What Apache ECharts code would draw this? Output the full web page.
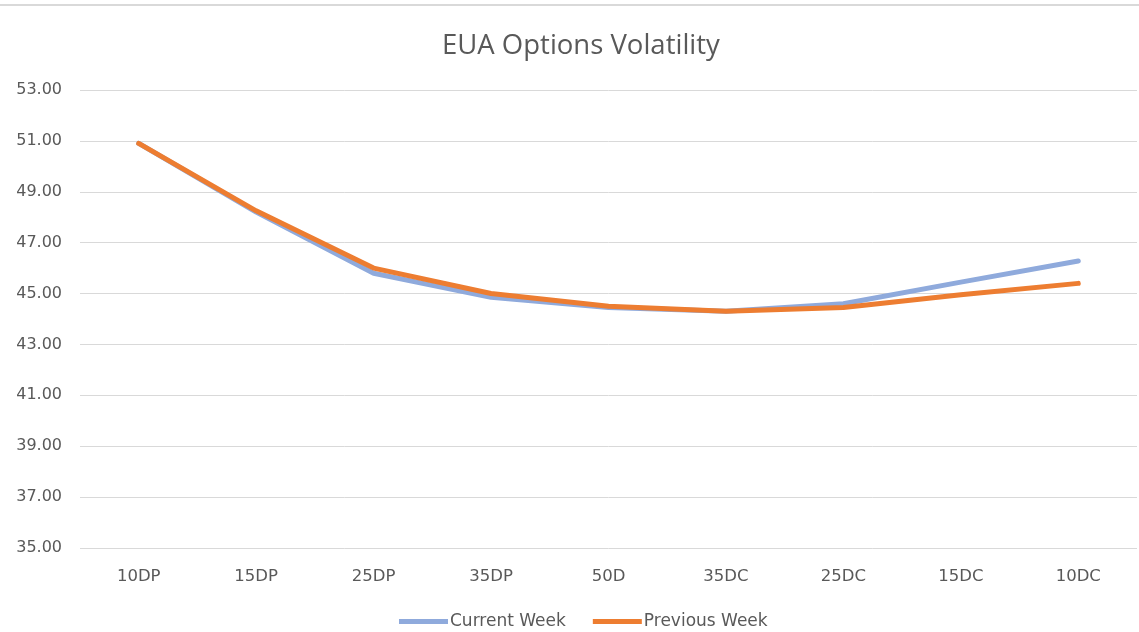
<!DOCTYPE html>
<html><head><meta charset="utf-8">
<script src="https://cdn.jsdelivr.net/npm/echarts@6/dist/echarts.min.js"></script>
<style>html,body{margin:0;padding:0;background:#fff}#c{width:1139px;height:632px}</style>
</head><body><div id="c"></div>
<script>
var categories = ['10DP','15DP','25DP','35DP','50D','35DC','25DC','15DC','10DC'];
var currentWeek = [50.9, 48.2, 45.8, 44.85, 44.45, 44.3, 44.6, 45.45, 46.28];
var previousWeek = [50.9, 48.25, 46.0, 45.0, 44.5, 44.3, 44.45, 44.95, 45.4];
var yMin = 35, yMax = 53, yStep = 2;

var chart = echarts.init(document.getElementById('c'));
chart.setOption({
  animation: false,
  backgroundColor: '#fff',
  graphic: [{type:'rect', shape:{x:0,y:4,width:1139,height:2}, style:{fill:'#d9d9d9'}}],
  title: {text:'EUA Options Volatility', left:437, top:27,
    textStyle:{fontFamily:'Open Sans', fontSize:27.5, fontWeight:'normal', color:'#595959'}},
  grid: {left:80, right:2, top:90, bottom:84},
  legend: {top:608, left:394, itemWidth:49, itemHeight:5, itemGap:27,
    icon:'rect',
    textStyle:{fontFamily:'DejaVu Sans', fontSize:17, color:'#595959', padding:[0,0,0,-3]},
    data:['Current Week','Previous Week']},
  xAxis: {type:'category', data:categories, boundaryGap:true,
    axisLine:{show:false}, axisTick:{show:false},
    axisLabel:{color:'#595959', fontFamily:'DejaVu Sans', fontSize:16.5, margin:20}},
  yAxis: {type:'value', min:yMin, max:yMax, interval:yStep,
    axisLine:{show:false}, axisTick:{show:false},
    axisLabel:{color:'#595959', fontFamily:'DejaVu Sans', fontSize:16, margin:18,
      formatter:function(v){return v.toFixed(2);}},
    splitLine:{lineStyle:{color:'#d9d9d9', width:1}}},
  series: [
    {name:'Current Week', type:'line', data:currentWeek, symbol:'none',
      lineStyle:{color:'#8faadc', width:5, cap:'round'}, itemStyle:{color:'#8faadc'}},
    {name:'Previous Week', type:'line', data:previousWeek, symbol:'none',
      lineStyle:{color:'#ed7d31', width:5, cap:'round'}, itemStyle:{color:'#ed7d31'}}
  ]
});
</script></body></html>
